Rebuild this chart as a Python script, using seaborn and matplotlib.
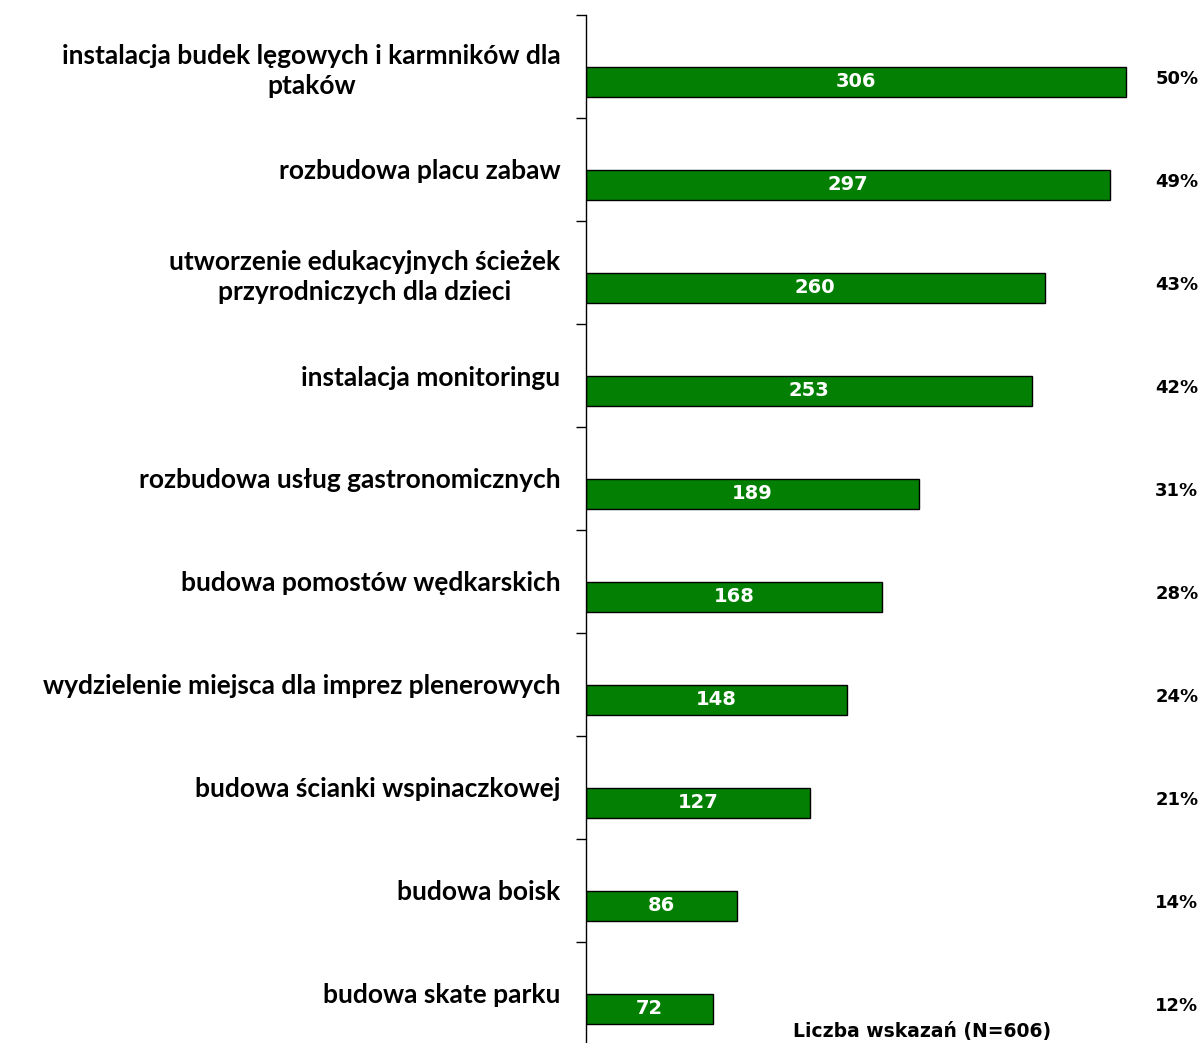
import matplotlib
matplotlib.use('Agg')
import matplotlib.pyplot as plt
import seaborn as sns
import pandas as pd
import numpy as np

# dane
categories = [
    'instalacja budek lęgowych i karmników dla\nptaków',
    'rozbudowa placu zabaw',
    'utworzenie edukacyjnych ścieżek\nprzyrodniczych dla dzieci',
    'instalacja monitoringu',
    'rozbudowa usług gastronomicznych',
    'budowa pomostów wędkarskich',
    'wydzielenie miejsca dla imprez plenerowych',
    'budowa ścianki wspinaczkowej',
    'budowa boisk',
    'budowa skate parku',
]
counts = [306, 297, 260, 253, 189, 168, 148, 127, 86, 72]
percents = [50, 49, 43, 42, 31, 28, 24, 21, 14, 12]
x_label = 'Liczba wskazań (N=606)'

W, H = 1202, 1043
sns.set_style('white')
plt.rcParams['font.family'] = ['Lato', 'DejaVu Sans']

fig = plt.figure(figsize=(W / 100, H / 100), dpi=100)
ax = fig.add_axes([585.6 / W, -2 / H, (W - 585.6) / W, 1030 / H])

df = pd.DataFrame({'kategoria': categories, 'liczba': counts})
sns.barplot(data=df, x='liczba', y='kategoria', orient='h', color='#038003',
            saturation=1, edgecolor='black', linewidth=1, width=0.29, ax=ax)

n = len(categories)
ax.set_xlim(0, 349.2)
ax.set_ylim(n - 1 + 0.35, -0.65)
ax.set_xticks([])
ax.set_xlabel('')
ax.set_ylabel('')

# podziałki na granicach kategorii, etykiety w środku komórek
ax.set_yticks(np.arange(n + 1) - 0.65)
ax.set_yticklabels([''] * (n + 1))
ax.set_yticks(np.arange(n) - 0.15, minor=True)
ax.set_yticklabels(categories, minor=True, fontsize=19, fontweight='bold',
                   color='black')
for lbl in ax.get_yticklabels(minor=True):
    lbl.set_multialignment('center')
    lbl.set_linespacing(1.3)
ax.tick_params(axis='y', which='major', length=7.2, width=1, color='black',
               direction='out', left=True)
ax.tick_params(axis='y', which='minor', length=0, pad=18, left=True)

for side in ['top', 'right', 'bottom']:
    ax.spines[side].set_visible(False)
ax.spines['left'].set_color('black')
ax.spines['left'].set_linewidth(1)

for i, (v, p) in enumerate(zip(counts, percents)):
    ax.text(v / 2, i, str(v), ha='center', va='center', color='white',
            fontsize=14, fontweight='bold', family='DejaVu Sans')
    ax.text(0.924, i - 0.03, f'{p}%', transform=ax.get_yaxis_transform(),
            ha='left', va='center', color='black', fontsize=13,
            fontweight='bold', family='DejaVu Sans')

fig.text(922 / W, 1 - 1032 / H, x_label, ha='center', va='center',
         fontsize=13.5, fontweight='bold', family='DejaVu Sans', color='black')

fig.savefig('out.png', dpi=100, facecolor='white')
